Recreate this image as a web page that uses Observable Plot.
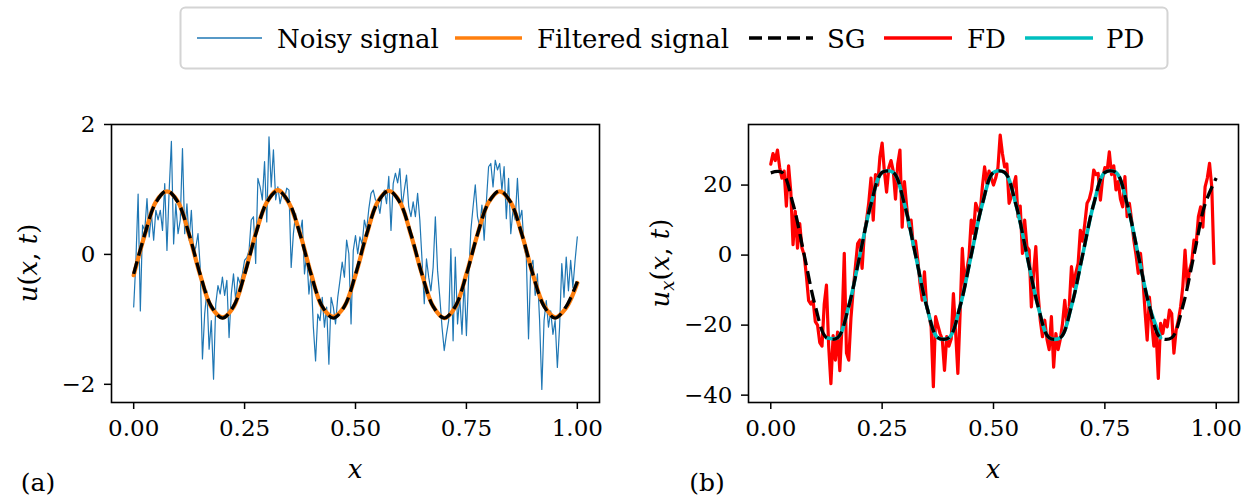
<!DOCTYPE html>
<html><head><meta charset="utf-8">
<script src="https://cdn.jsdelivr.net/npm/d3@7"></script>
<script src="https://cdn.jsdelivr.net/npm/@observablehq/plot@0.6"></script>
<style>
html,body{margin:0;padding:0;background:#fff;}
#wrap{position:relative;width:1258px;height:497px;overflow:hidden;}
#legend{position:absolute;left:0;top:0;}
#row{position:absolute;left:0;top:75px;display:flex;}
</style></head><body>
<div id="wrap"><svg id="legend" width="1258" height="75"></svg><div id="row"></div></div>
<script>
// ---------- data ----------
const DX_NOISY = 0.005;   // grid step of the noisy signal
const DX_FD = 0.005;      // grid step of the FD derivative
const DX_SMOOTH = 0.025;  // sampling step of the smooth curves
const PD_START = 0.125;   // first x of the PD curve

const xTicks = [0, 0.25, 0.5, 0.75, 1];
const yTicksA = [-2, 0, 2];
const yTicksB = [-40, -20, 0, 20];

const noisy = [
 -0.81,-0.10,0.93,-0.87,0.45,0.37,0.86,0.27,0.63,0.22,
 0.68,0.53,0.68,0.37,1.09,0.06,0.99,1.74,0.16,0.78,
 0.32,0.53,1.63,0.32,0.78,0.22,0.68,0.01,0.11,0.32,
 -0.20,-1.61,-0.92,-0.56,-1.46,-1.02,-1.92,-0.76,-0.48,-0.61,
 -0.35,-0.63,-0.40,-1.28,-0.61,-0.30,-0.71,-0.35,-0.45,-0.30,
 -0.09,
 -0.05,0.06,0.53,0.58,-0.14,1.17,1.04,0.84,1.43,0.50,
 1.81,1.04,1.61,0.84,1.04,0.78,0.94,0.85,1.02,0.99,
 -0.20,0.32,0.63,0.40,0.32,0.53,-0.30,0.01,-0.61,-0.30,
 -1.12,-1.64,-0.92,-1.02,-0.66,-1.12,-0.81,-1.69,-0.66,-0.81,
 -1.07,-0.66,-0.40,-0.12,-0.35,0.22,0.01,-1.07,0.06,0.29,
 0.01,0.27,0.16,0.53,0.37,0.70,0.94,0.99,0.84,
 0.81,0.63,0.90,0.99,0.78,1.20,0.37,1.09,1.25,1.10,
 1.32,0.73,0.99,1.22,0.73,0.58,0.81,0.58,0.94,0.53,
 -0.09,-0.76,-0.07,-0.35,-0.56,-0.20,0.58,-0.25,-0.66,-1.12,
 -1.48,-1.23,-1.02,0.09,-1.33,-0.04,-1.07,-0.66,-1.23,-0.40,
 -1.25,-0.35,0.37,0.73,1.07,0.58,0.42,0.76,0.22,0.81,
 1.35,1.40,1.04,1.45,1.30,1.40,0.99,1.35,
 0.55,1.17,0.32,0.68,0.53,1.17,0.53,0.68,0.11,-0.04,
 -1.30,-0.20,-0.09,-0.63,-0.30,-1.02,-2.08,-1.02,-0.71,-1.12,
 -0.87,-1.23,-1.02,-1.74,-1.12,-0.14,-0.66,-0.04,-0.56,-0.09,
 -0.51,-0.09,0.27
];

const filtered = [
 -0.32,0.30,0.81,0.97,0.81,0.30,-0.32,-0.81,-0.97,-0.81,
 -0.30,0.32,0.80,0.99,0.79,0.32,-0.30,-0.81,-0.96,-0.80,
 -0.32,0.30,0.81,0.98,0.81,0.30,-0.31,-0.80,-0.98,-0.81,
 -0.30,0.31,0.80,0.97,0.80,0.31,-0.31,-0.79,-0.97,-0.82,
 -0.44
];

const sgU = [
 -0.30,0.31,0.80,0.98,0.80,0.31,-0.31,-0.80,-0.98,-0.80,
 -0.31,0.31,0.80,0.98,0.80,0.31,-0.31,-0.80,-0.98,-0.80,
 -0.31,0.31,0.80,0.98,0.80,0.31,-0.31,-0.80,-0.98,-0.80,
 -0.31,0.31,0.80,0.98,0.80,0.31,-0.31,-0.80,-0.98,-0.80,
 -0.42
];

const fd = [
 26,29,27,30,25,22,24,14,25.5,18,
 3,12.5,2,9,2,0,-6,-13,-14,-13,
 -19,-20,-25,-26,-14,-8.6,-26,-36.7,-23,-30,
 -22,-33,-20,0.5,-28,-30,-18,-10,-3.3,3.3,
 4.3,-3.8,6.2,10,15,22,
 10,23,20,28,32,24,18,25,27,24,
 16,26,30,8,21,14,8,10,2.4,4,
 -1.4,-8,-12.9,-4.8,-14.8,-17,-20.5,-37.6,-17.6,-20,
 -22.4,-24,-32.9,-23.3,-26,-24,-11,-22,-33.8,-16.7,
 1.9,-9,-4.3,-0.5,10,6.2,14.8,13,11.9,19.5,
 25.2,20.5,24,
 22,20,22,25,34.3,29,25.2,26,14.8,16.7,
 20,22.4,11,14,0.5,10,2.4,1.4,-14.8,-5,
 2.4,-11,-18.6,-23.3,-18.6,-24,-27,-17.6,-32,-22.4,
 -27,-24,-19.5,-12.9,-19.5,-14.8,-3.3,-9,-5,-2.4,
 7.1,4,9,14.8,16,18.6,24.3,23,23.3,15.7,
 22,
 25,24,29.5,23,25.5,18.6,21,16,13.8,22.4,
 11,14.8,10,4.3,0,-5.2,0.5,-6,-15.7,-24.3,
 -12,-19,-26,-22,-35.2,-19.5,-22.4,-18.6,-20.5,-15.7,
 -16.7,-28,-21.4,-18.6,-14.8,-9,1.4,-9,-4.3,-2,
 4.3,3.3,11,13.8,8,19.5,22,26.2,19.5,-2.4
];

const sgUx = [
 23.5,23.6,14.6,0.1,-14.6,-23.6,-23.6,-14.6,0,14.6,
 23.6,23.6,14.6,0,-14.6,-23.6,-23.6,-14.6,0,14.6,
 23.6,23.6,14.6,0,-14.6,-23.6,-23.6,-14.6,0,14.6,
 23.6,23.6,14.6,0,-14.6,-23.6,-23.6,-14.6,0,14.6,
 22.0
];

const pd = [
 -23.6,-23.6,-14.6,0,14.6,23.6,23.6,14.6,0,-14.6,
 -23.6,-23.6,-14.6,0,14.6,23.6,23.6,14.6,0,-14.6,
 -23.6,-23.6,-14.6,0,14.6,23.6,23.6,14.6,0,-14.6,
 -23.6
];

const seriesNames = ["Noisy signal", "Filtered signal", "SG", "FD", "PD"];
const seriesColors = ["#1f77b4", "#ff7f0e", "#000000", "#ff0000", "#00bfbf"];

// ---------- tables ----------
const grid = (arr, step, start = 0) => arr.map((v, i) => ({x: +(start + i * step).toFixed(4), v}));
const noisyT = grid(noisy, DX_NOISY);
const filtT = grid(filtered, DX_SMOOTH);
const sgUT = grid(sgU, DX_SMOOTH);
const fdT = grid(fd, DX_FD);
const sgUxT = grid(sgUx, DX_SMOOTH);
const pdT = grid(pd, DX_SMOOTH, PD_START);

const minus = d => d < 0 ? "\u2212" + Math.abs(d) : String(d);
const FONT = "'DejaVu Serif', 'Liberation Serif', serif";
const dash = {stroke: "black", strokeWidth: 3.3, strokeDasharray: "13,6", strokeLinecap: "butt", curve: "catmull-rom"};

function panel(opts) {
  return Plot.plot({
    width: 629, height: 422,
    marginLeft: opts.ml, marginRight: opts.mr, marginTop: 49, marginBottom: 95,
    style: {fontFamily: FONT, fontSize: "23px", background: "white", color: "black"},
    x: {domain: [-0.05, 1.05]},
    y: {domain: opts.ydom},
    marks: [
      ...opts.marks,
      Plot.frame({stroke: "black", strokeWidth: 1.6}),
      Plot.axisX({ticks: xTicks, tickFormat: d3.format(".2f"), tickSize: 7, tickPadding: 10, strokeWidth: 1.5, label: null}),
      Plot.axisY({ticks: opts.yticks, tickFormat: minus, tickSize: 7, tickPadding: 9, strokeWidth: 1.5, label: null})
    ]
  });
}

const A = panel({
  ml: 111, mr: 30, ydom: [-2.28, 2.0], yticks: yTicksA,
  marks: [
    Plot.line(noisyT, {x: "x", y: "v", stroke: seriesColors[0], strokeWidth: 1.2}),
    Plot.line(filtT, {x: "x", y: "v", stroke: seriesColors[1], strokeWidth: 4.2, curve: "catmull-rom"}),
    Plot.line(sgUT, {x: "x", y: "v", ...dash})
  ]
});
const B = panel({
  ml: 119, mr: 20, ydom: [-42.1, 37.3], yticks: yTicksB,
  marks: [
    Plot.line(fdT, {x: "x", y: "v", stroke: seriesColors[3], strokeWidth: 3.2}),
    Plot.line(pdT, {x: "x", y: "v", stroke: seriesColors[4], strokeWidth: 3.6, curve: "catmull-rom"}),
    Plot.line(sgUxT, {x: "x", y: "v", ...dash})
  ]
});

const row = document.getElementById("row");
row.appendChild(A);
row.appendChild(B);

// axis titles and panel tags
function addText(svg, x, y, parts, rotate, size) {
  const t = d3.select(svg).append("text")
    .attr("x", x).attr("y", y)
    .attr("text-anchor", "middle")
    .attr("dominant-baseline", "middle")
    .style("font-family", FONT).style("font-size", (size || 26) + "px").attr("fill", "black");
  if (rotate) t.attr("transform", `rotate(-90 ${x} ${y})`);
  parts.forEach(p => {
    const s = t.append("tspan").text(p.t);
    if (p.i) s.style("font-style", "italic");
    if (p.sub) s.style("font-size", "18px").attr("dy", 7);
    if (p.up) s.attr("dy", -7);
  });
}
const uLabel = [{t: "u", i: 1}, {t: "("}, {t: "x", i: 1}, {t: ","}, {t: " t", i: 1}, {t: ")"}];
const uxLabel = [{t: "u", i: 1}, {t: "x", i: 1, sub: 1}, {t: "(", up: 1}, {t: "x", i: 1}, {t: ","}, {t: " t", i: 1}, {t: ")"}];
addText(A, 30, 188, uLabel, true);
addText(B, 33, 188, uxLabel, true);
addText(A, 355, 396, [{t: "x", i: 1}]);
addText(B, 364, 396, [{t: "x", i: 1}]);
addText(A, 38, 409, [{t: "(a)"}], false, 25);
addText(B, 78, 409, [{t: "(b)"}], false, 25);

// legend
const lg = d3.select("#legend");
lg.append("rect").attr("x", 180.5).attr("y", 7.5).attr("width", 987).attr("height", 61)
  .attr("rx", 5).attr("fill", "white").attr("stroke", "#d4d4d4").attr("stroke-width", 2);
const items = [
  {x1: 197, x2: 262, tx: 277, w: 1.6},
  {x1: 455, x2: 522, tx: 537, w: 3.6},
  {x1: 749, x2: 813, tx: 827, w: 3.3, dash: "13,6"},
  {x1: 884, x2: 952, tx: 967, w: 3.3},
  {x1: 1025, x2: 1093, tx: 1106, w: 3.3}
];
items.forEach((it, k) => {
  const l = lg.append("line").attr("x1", it.x1).attr("x2", it.x2).attr("y1", 38).attr("y2", 38)
    .attr("stroke", seriesColors[k]).attr("stroke-width", it.w);
  if (it.dash) l.attr("stroke-dasharray", it.dash);
  lg.append("text").attr("x", it.tx).attr("y", 48).text(seriesNames[k])
    .style("font-family", FONT).style("font-size", "26px").attr("fill", "black");
});
</script>
</body></html>
